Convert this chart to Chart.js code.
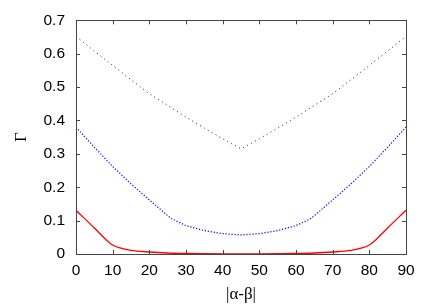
<!DOCTYPE html>
<html>
<head>
<meta charset="utf-8">
<script src="https://cdn.jsdelivr.net/npm/chart.js@4"></script>
<style>
  html, body { margin: 0; padding: 0; background: #fff; }
  #wrap { width: 436px; height: 305px; }
</style>
</head>
<body>
<div id="wrap"><canvas id="gammaChart"></canvas></div>
<script>
// black dotted curve
const blackAngles = [0, 5, 10, 15, 20, 25, 30, 35, 40, 45, 50, 55, 60, 65, 70, 75, 80, 85, 90];
const blackValues = [0.652, 0.608, 0.565, 0.522, 0.48, 0.445, 0.41, 0.377, 0.345, 0.315,
                     0.345, 0.377, 0.41, 0.445, 0.48, 0.522, 0.565, 0.608, 0.652];

// blue dotted curve
const blueAngles = [0, 5, 10, 15, 20, 25, 26, 30, 35, 40, 45, 50, 55, 60, 64, 65, 70, 75, 80, 85, 90];
const blueValues = [0.38, 0.32, 0.262, 0.21, 0.162, 0.115, 0.106, 0.085, 0.07, 0.061, 0.057,
                    0.061, 0.07, 0.085, 0.106, 0.115, 0.162, 0.21, 0.262, 0.32, 0.38];

// red solid curve
const redAngles = [0, 5, 8, 10, 12, 15, 20, 25, 30, 35, 40, 45, 50, 55, 60, 65, 70, 75, 78, 80, 82, 85, 90];
const redValues = [0.131, 0.078, 0.045, 0.027, 0.018, 0.011, 0.006, 0.003, 0.0015, 0.0008, 0.0004, 0.0003,
                   0.0004, 0.0008, 0.0015, 0.003, 0.006, 0.011, 0.018, 0.027, 0.045, 0.078, 0.131];

const xTicks = [0, 10, 20, 30, 40, 50, 60, 70, 80, 90];
const yTicks = [0, 0.1, 0.2, 0.3, 0.4, 0.5, 0.6, 0.7];

const toPoints = (xs, ys) => xs.map((x, i) => ({ x: x, y: ys[i] }));

// gnuplot style frame: border plus inward ticks on all four sides
const framePlugin = {
    id: 'frame',
    afterDatasetsDraw(chart) {
        const { ctx, chartArea: a, scales } = chart;
        ctx.save();
        ctx.strokeStyle = '#444';
        ctx.lineWidth = 1;
        ctx.beginPath();
        xTicks.forEach(v => {
            const px = Math.round(scales.x.getPixelForValue(v)) + 0.5;
            ctx.moveTo(px, a.bottom); ctx.lineTo(px, a.bottom - 4);
            ctx.moveTo(px, a.top); ctx.lineTo(px, a.top + 4);
        });
        yTicks.forEach(v => {
            const py = Math.round(scales.y.getPixelForValue(v)) + 0.5;
            ctx.moveTo(a.left, py); ctx.lineTo(a.left + 4, py);
            ctx.moveTo(a.right, py); ctx.lineTo(a.right - 4, py);
        });
        ctx.stroke();
        ctx.strokeRect(Math.round(a.left) + 0.5, Math.round(a.top) + 0.5,
                       Math.round(a.right - a.left), Math.round(a.bottom - a.top));
        ctx.restore();
    }
};

const tickFont = { family: 'Liberation Sans', size: 15.5 };
const titleFont = { family: 'Liberation Serif', size: 17 };

new Chart(document.getElementById('gammaChart').getContext('2d'), {
    type: 'line',
    data: {
        datasets: [
            {
                data: toPoints(blackAngles, blackValues),
                borderColor: '#222',
                borderWidth: 1,
                borderDash: [1, 3.5],
                pointRadius: 0,
                tension: 0
            },
            {
                data: toPoints(blueAngles, blueValues),
                borderColor: '#0000ff',
                borderWidth: 1.2,
                borderDash: [1.2, 1.8],
                pointRadius: 0,
                tension: 0
            },
            {
                data: toPoints(redAngles, redValues),
                borderColor: '#ff0000',
                borderWidth: 1.3,
                pointRadius: 0,
                cubicInterpolationMode: 'monotone'
            }
        ]
    },
    options: {
        responsive: true,
        maintainAspectRatio: false,
        animation: false,
        layout: { padding: { top: 20, right: 30, left: 0, bottom: 0 } },
        plugins: { legend: { display: false }, tooltip: { enabled: false } },
        scales: {
            x: {
                type: 'linear',
                min: 0,
                max: 90,
                afterFit: (s) => { s.height = 51; },
                afterBuildTicks: (s) => { s.ticks = xTicks.map(v => ({ value: v })); },
                grid: { display: false, drawTicks: false },
                border: { display: false },
                ticks: { color: '#000', font: tickFont, padding: 7, maxRotation: 0 },
                title: { display: true, text: '|α-β|', color: '#000', font: titleFont, padding: 0 }
            },
            y: {
                min: 0,
                max: 0.7,
                afterFit: (s) => { s.width = 76; },
                afterBuildTicks: (s) => { s.ticks = yTicks.map(v => ({ value: v })); },
                grid: { display: false, drawTicks: false },
                border: { display: false },
                ticks: {
                    color: '#000',
                    font: tickFont,
                    padding: 11,
                    callback: (v) => v === 0 ? '0' : v.toFixed(1)
                },
                title: { display: true, text: 'Γ', color: '#000', font: titleFont, padding: { top: 11, bottom: 0 } }
            }
        }
    },
    plugins: [framePlugin]
});
</script>
</body>
</html>
